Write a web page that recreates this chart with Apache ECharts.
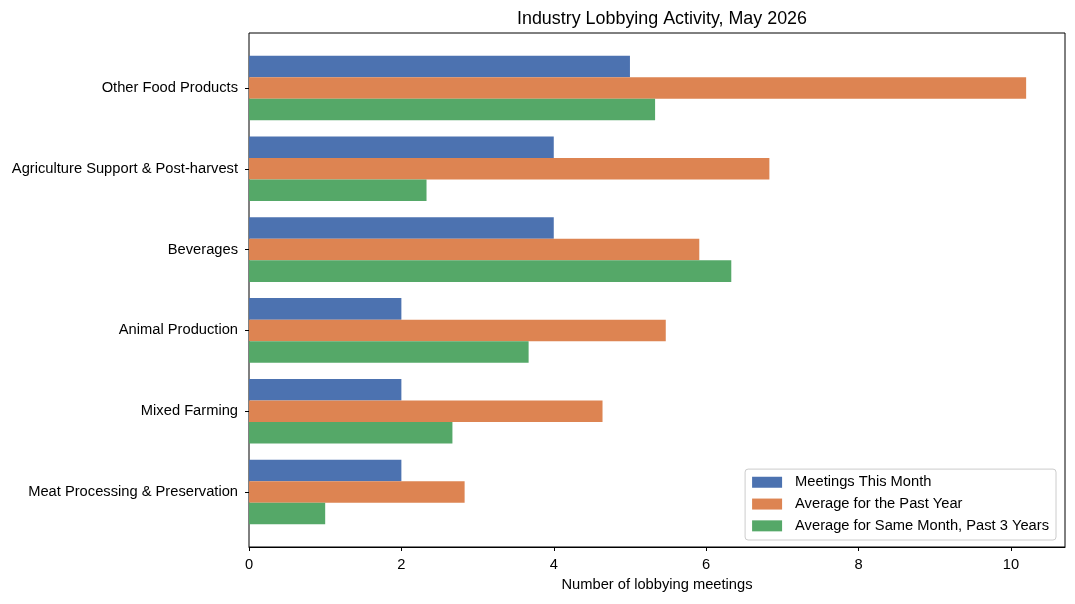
<!DOCTYPE html>
<html>
<head>
<meta charset="utf-8">
<script src="https://cdn.jsdelivr.net/npm/echarts@6/dist/echarts.min.js"></script>
<style>html,body{margin:0;padding:0;background:#fff;}#c{width:1075px;height:604px;}</style>
</head>
<body>
<div id="c"></div>
<script>
const categories = ["Other Food Products", "Agriculture Support & Post-harvest", "Beverages", "Animal Production", "Mixed Farming", "Meat Processing & Preservation"];
const meetingsThisMonth = [5, 4, 4, 2, 2, 2];
const avgPastYear = [10.2, 6.83, 5.91, 5.47, 4.64, 2.83];
const avgSameMonth3Yr = [5.33, 2.33, 6.33, 3.67, 2.67, 1.0];
const xTicks = [0, 2, 4, 6, 8, 10];
const seriesNames = ["Meetings This Month", "Average for the Past Year", "Average for Same Month, Past 3 Years"];
const xMax = 10.71;

const chart = echarts.init(document.getElementById('c'), null, {renderer: 'canvas'});
const font = 'Liberation Sans, Arial, sans-serif';
const fs = 14.7;
const option = {
  animation: false,
  backgroundColor: '#fff',
  color: ['#4C72B0', '#DD8452', '#55A868'],
  title: {
    text: 'Industry Lobbying Activity, May 2026',
    left: 657, top: 5, textAlign: 'center',
    textStyle: {fontFamily: font, fontSize: 17.9, fontWeight: 'normal', color: '#000'}
  },
  legend: {
    orient: 'vertical', right: 19, bottom: 64,
    itemWidth: 30, itemHeight: 11, itemGap: 5.5,
    padding: [5, 7, 6, 7],
    backgroundColor: '#fff', borderColor: '#ccc', borderWidth: 1, borderRadius: 3,
    textStyle: {fontFamily: font, fontSize: fs, color: '#000', padding: [0, 0, 0, 8], lineHeight: 16.3},
    icon: 'rect',
    data: seriesNames
  },
  grid: [
    {left: 249, right: 10, top: 47.6, bottom: 71.6, containLabel: false},
    {left: 249, right: 10, top: 33, bottom: 57, show: true, borderColor: '#000', borderWidth: 1, backgroundColor: 'transparent'}
  ],
  xAxis: [
    {gridIndex: 0, type: 'value', min: 0, max: xMax, show: false},
    {gridIndex: 1, type: 'value', min: 0, max: xMax, interval: 2,
      axisLine: {show: true, lineStyle: {color: '#000'}},
      axisTick: {show: true, length: 4, lineStyle: {color: '#000'}, customValues: xTicks},
      axisLabel: {fontFamily: font, fontSize: fs, color: '#000', margin: 10.5, customValues: xTicks},
      splitLine: {show: false},
      name: 'Number of lobbying meetings', nameLocation: 'middle', nameGap: 30,
      nameTextStyle: {fontFamily: font, fontSize: fs, color: '#000'}
    }
  ],
  yAxis: [
    {gridIndex: 0, type: 'category', data: categories, inverse: true,
      axisLine: {show: false},
      axisTick: {show: true, length: 4, alignWithLabel: true, lineStyle: {color: '#000'}},
      axisLabel: {fontFamily: font, fontSize: fs, color: '#000', margin: 11},
      splitLine: {show: false}
    },
    {gridIndex: 1, type: 'value', min: 0, max: 1, show: false}
  ],
  series: [
    {name: seriesNames[0], type: 'bar', xAxisIndex: 0, yAxisIndex: 0, data: meetingsThisMonth, barGap: '0%', barCategoryGap: '20%'},
    {name: seriesNames[1], type: 'bar', xAxisIndex: 0, yAxisIndex: 0, data: avgPastYear, barGap: '0%', barCategoryGap: '20%'},
    {name: seriesNames[2], type: 'bar', xAxisIndex: 0, yAxisIndex: 0, data: avgSameMonth3Yr, barGap: '0%', barCategoryGap: '20%'}
  ]
};
chart.setOption(option);
</script>
</body>
</html>
